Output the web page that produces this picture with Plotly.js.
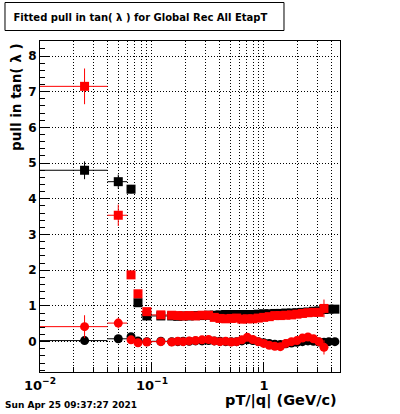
<!DOCTYPE html>
<html>
<head>
<meta charset="utf-8">
<script src="https://cdn.plot.ly/plotly-3.0.1.min.js"></script>
<style>html,body{margin:0;padding:0;background:#fff;}#chart{width:400px;height:414px;}</style>
</head>
<body>
<div id="chart"></div>
<script>
// bin edges in pT/|q| (GeV/c)
const binLo = [0.01,0.04,0.06,0.07,0.08,0.10,0.14,0.16,0.18,0.20,0.23,0.26,0.30,0.34,0.38,0.43,0.48,0.54,0.60,0.67,0.75,0.84,0.94,1.05,1.18,1.32,1.48,1.66,1.86,2.08,2.33,2.61,2.92,3.27,3.60,4.00];
const binHi = [0.04,0.06,0.07,0.08,0.10,0.14,0.16,0.18,0.20,0.23,0.26,0.30,0.34,0.38,0.43,0.48,0.54,0.60,0.67,0.75,0.84,0.94,1.05,1.18,1.32,1.48,1.66,1.86,2.08,2.33,2.61,2.92,3.27,3.60,4.00,4.60];

// black set (36 bins)
const blackSigma = [4.80,4.48,4.27,1.09,0.72, 0.72,0.72,0.71,0.72,0.72, 0.73,0.73,0.74,0.74,0.75, 0.76,0.76,0.76,0.76,0.76, 0.76,0.77,0.78,0.78,0.79, 0.79,0.80,0.80,0.81,0.82, 0.83,0.85,0.86,0.90,0.91, 0.91];
const blackSigmaErr = [0.25,0.20,0.12,0.05,0.03, 0.03,0.03,0.03,0.03,0.03, 0.03,0.03,0.03,0.03,0.03, 0.03,0.03,0.03,0.03,0.03, 0.03,0.03,0.03,0.03,0.03, 0.03,0.03,0.03,0.03,0.03, 0.03,0.04,0.04,0.04,0.04, 0.04];
const blackMean = [0.03,0.08,0.14,0.02,0.00, 0.01,0.00,0.00,0.01,0.01, 0.02,0.02,0.03,0.02,0.01, 0.00,0.00,0.00,0.02,0.05, 0.03,0.00,-0.03,-0.05,-0.07, -0.08,-0.06,-0.04,-0.02,0.00, 0.02,0.01,-0.01,-0.02,0.00, 0.00];
const blackMeanErr = [0.06,0.05,0.04,0.03,0.03, 0.03,0.03,0.03,0.03,0.03, 0.03,0.03,0.03,0.03,0.03, 0.03,0.03,0.03,0.03,0.03, 0.03,0.03,0.03,0.03,0.03, 0.03,0.03,0.03,0.03,0.03, 0.03,0.04,0.04,0.04,0.04, 0.04];

// red set (first 34 bins)
const redSigma = [7.15,3.54,1.87,1.34,0.84, 0.75,0.74,0.73,0.72,0.73, 0.72,0.74,0.74,0.68,0.65, 0.64,0.65,0.66,0.63,0.64, 0.64,0.66,0.68,0.70,0.73, 0.73,0.74,0.75,0.77,0.79, 0.81,0.82,0.82,0.93];
const redSigmaErr = [0.50,0.30,0.10,0.08,0.06, 0.06,0.06,0.06,0.06,0.06, 0.06,0.07,0.07,0.06,0.06, 0.06,0.06,0.06,0.06,0.06, 0.06,0.06,0.06,0.06,0.06, 0.06,0.06,0.06,0.06,0.06, 0.06,0.06,0.07,0.25];
const redMean = [0.42,0.52,0.05,-0.03,-0.01, 0.00,-0.01,0.01,0.00,0.02, 0.03,0.05,0.06,0.02,0.00, 0.01,-0.01,0.00,0.05,0.12, 0.06,0.00,-0.05,-0.10,-0.13, -0.14,-0.05,0.00,0.03,0.10, 0.13,0.08,0.00,-0.16];
const redMeanErr = [0.32,0.15,0.05,0.05,0.05, 0.06,0.06,0.06,0.06,0.06, 0.06,0.06,0.06,0.06,0.06, 0.06,0.06,0.06,0.06,0.06, 0.06,0.06,0.06,0.06,0.06, 0.06,0.06,0.06,0.06,0.06, 0.06,0.06,0.06,0.20];

const xMajorVals = [0.01, 0.1, 1];
const xMajorText = ['<b>10<sup>−2</sup></b>', '<b>10<sup>−1</sup></b>', '<b>1</b>'];
const xMinorVals = [0.02,0.03,0.04,0.05,0.06,0.07,0.08,0.09,0.2,0.3,0.4,0.5,0.6,0.7,0.8,0.9,2,3,4];
const yMajorVals = [0,1,2,3,4,5,6,7,8];
const yMajorText = ['<b>0</b>','<b>1</b>','<b>2</b>','<b>3</b>','<b>4</b>','<b>5</b>','<b>6</b>','<b>7</b>','<b>8</b>'];

const titleText = 'Fitted pull in tan( λ ) for Global Rec All EtapT';
const xTitle = 'pT/|q| (GeV/c)';
const yTitle = 'pull in tan( λ )';
const dateText = 'Sun Apr 25 09:37:27 2021';

function centers(n) { const c = []; for (let i = 0; i < n; i++) c.push((binLo[i] + binHi[i]) / 2); return c; }
function errPlus(n) { const c = centers(n); return c.map((v, i) => binHi[i] - v); }
function errMinus(n) { const c = centers(n); return c.map((v, i) => v - binLo[i]); }

function series(n, y, ey, color, symbol) {
  return {
    type: 'scatter', mode: 'markers',
    x: centers(n), y: y,
    marker: { color: color, symbol: symbol, size: 9, line: { width: 0 } },
    error_x: { type: 'data', symmetric: false, array: errPlus(n), arrayminus: errMinus(n), color: color, thickness: 1, width: 0 },
    error_y: { type: 'data', array: ey, color: color, thickness: 1, width: 0 },
    hoverinfo: 'skip', showlegend: false, cliponaxis: true
  };
}

const nB = blackSigma.length, nR = redSigma.length;
const data = [
  series(nB, blackSigma, blackSigmaErr, '#000000', 'square'),
  series(nB, blackMean, blackMeanErr, '#000000', 'circle'),
  series(nR, redSigma, redSigmaErr, '#ff0000', 'square'),
  series(nR, redMean, redMeanErr, '#ff0000', 'circle')
];

const F = 'DejaVu Sans, Liberation Sans, sans-serif';
const dots = '1px,2px';
const layout = {
  width: 400, height: 414,
  margin: { l: 40, r: 60, t: 41, b: 42, pad: 0 },
  paper_bgcolor: '#ffffff', plot_bgcolor: '#ffffff',
  showlegend: false, hovermode: false,
  font: { family: F, color: '#000' },
  title: { text: '<b>' + titleText + '</b>', font: { family: F, size: 10, color: '#000' },
           x: 0.351, xref: 'container', xanchor: 'center', y: 0.9577, yref: 'container', yanchor: 'middle' },
  xaxis: {
    type: 'log', range: [-2, 0.679], autorange: false,
    showline: true, mirror: true, linecolor: '#000', linewidth: 1,
    ticks: 'inside', ticklen: 9, tickcolor: '#000', tickwidth: 1,
    tickmode: 'array', tickvals: xMajorVals, ticktext: xMajorText,
    tickfont: { family: F, size: 13, color: '#000' }, ticklabelstandoff: 1,
    showgrid: true, gridcolor: '#000', gridwidth: 1, griddash: dots,
    minor: { tickvals: xMinorVals, ticks: 'inside', ticklen: 5, tickcolor: '#000',
             showgrid: true, gridcolor: '#000', gridwidth: 1, griddash: dots },
    zeroline: false
  },
  yaxis: {
    range: [-0.85, 8.42], autorange: false,
    showline: true, mirror: true, linecolor: '#000', linewidth: 1,
    ticks: 'inside', ticklen: 9, tickcolor: '#000', tickwidth: 1,
    tickmode: 'array', tickvals: yMajorVals, ticktext: yMajorText,
    tickfont: { family: F, size: 12, color: '#000' },
    showgrid: true, gridcolor: '#000', gridwidth: 1, griddash: dots,
    minor: { tick0: 0, dtick: 0.2, ticks: 'inside', ticklen: 5, tickcolor: '#000', showgrid: false },
    zeroline: false
  },
  shapes: [
    { type: 'rect', xref: 'paper', yref: 'paper', x0: -0.1167, x1: 0.8133, y0: 1.0317, y1: 1.1163,
      line: { color: '#000', width: 1 }, fillcolor: 'rgba(0,0,0,0)', layer: 'above' }
  ],
  annotations: [
    { text: '<b>' + yTitle + '</b>', xref: 'paper', yref: 'paper', x: -0.08, y: 0.8308, xanchor: 'center', yanchor: 'middle',
      textangle: -90, showarrow: false, font: { family: F, size: 13.5, color: '#000' } },
    { text: '<b>' + xTitle + '</b>', xref: 'paper', yref: 'paper', x: 0.9967, y: -0.0876, xanchor: 'right', yanchor: 'middle',
      showarrow: false, font: { family: F, size: 14.5, color: '#000' } },
    { text: '<b>' + dateText + '</b>', xref: 'paper', yref: 'paper', x: -0.1233, y: -0.1012, xanchor: 'left', yanchor: 'middle',
      showarrow: false, font: { family: F, size: 9, color: '#000' } }
  ]
};

Plotly.newPlot('chart', data, layout, { staticPlot: true, displayModeBar: false });
</script>
</body>
</html>
